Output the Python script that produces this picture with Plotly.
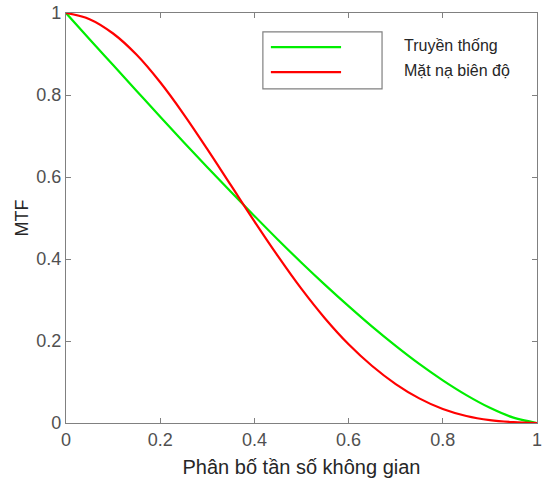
import plotly.graph_objects as go

freq = [0.0, 0.05, 0.10, 0.15, 0.20, 0.25, 0.30, 0.35, 0.40, 0.45, 0.50,
        0.55, 0.60, 0.65, 0.70, 0.75, 0.80, 0.85, 0.90, 0.95, 1.0]
mtf_traditional = [1.0, 0.936, 0.873, 0.810, 0.747, 0.685, 0.624, 0.564, 0.505, 0.447, 0.391,
                   0.337, 0.285, 0.235, 0.188, 0.144, 0.104, 0.068, 0.037, 0.013, 0.0]
mtf_mask = [1.0, 0.985, 0.950, 0.898, 0.831, 0.753, 0.668, 0.580, 0.492, 0.407, 0.327,
            0.255, 0.192, 0.139, 0.095, 0.060, 0.034, 0.017, 0.007, 0.002, 0.0]
names = ["Truyền thống", "Mặt nạ biên độ"]
colors = ["#00ee00", "#ff0000"]
tick_vals = [0, 0.2, 0.4, 0.6, 0.8, 1]
tick_text = ["0", "0.2", "0.4", "0.6", "0.8", "1"]

FONT = "Liberation Sans, Arial, sans-serif"

fig = go.Figure()
for ys, nm, col in [(mtf_traditional, names[0], colors[0]), (mtf_mask, names[1], colors[1])]:
    fig.add_trace(go.Scatter(x=freq, y=ys, mode="lines", name=nm, cliponaxis=False,
                             line=dict(color=col, width=2.2, shape="spline", smoothing=1.0)))

axis_common = dict(range=[0, 1], tickvals=tick_vals, ticktext=tick_text, automargin=False,
                   ticklabeloverflow="allow",
                   showline=True, linecolor="#808080", linewidth=1.3, mirror="ticks",
                   ticks="inside", ticklen=5, tickcolor="#808080", showgrid=False, zeroline=False,
                   tickfont=dict(family=FONT, size=18, color="#505050"))

fig.update_layout(
    width=542, height=483,
    margin=dict(l=66, r=5, t=13, b=60),
    paper_bgcolor="white", plot_bgcolor="white",
    showlegend=False,
    xaxis=dict(**axis_common,
               title=dict(text="Phân bố tần số không gian", standoff=11,
                          font=dict(family=FONT, size=20, color="#262626"))),
    yaxis=dict(**axis_common,
               title=dict(text="MTF", standoff=2,
                          font=dict(family=FONT, size=18, color="#262626"))),
)

# legend drawn manually (MATLAB-style box with labels outside)
fig.add_shape(type="rect", xref="paper", yref="paper", x0=0.418, x1=0.671, y0=0.815, y1=0.954,
              line=dict(color="#808080", width=1.2), fillcolor="white")
legend_y = [0.917, 0.856]
for yy, nm, col in zip(legend_y, names, colors):
    fig.add_shape(type="line", xref="paper", yref="paper", x0=0.435, x1=0.584, y0=yy, y1=yy,
                  line=dict(color=col, width=2.2))
    fig.add_annotation(xref="paper", yref="paper", x=0.713, y=yy + 0.004, text=nm, showarrow=False,
                       xanchor="left", yanchor="middle",
                       font=dict(family=FONT, size=16, color="#262626"))

fig.write_html("out.html")
